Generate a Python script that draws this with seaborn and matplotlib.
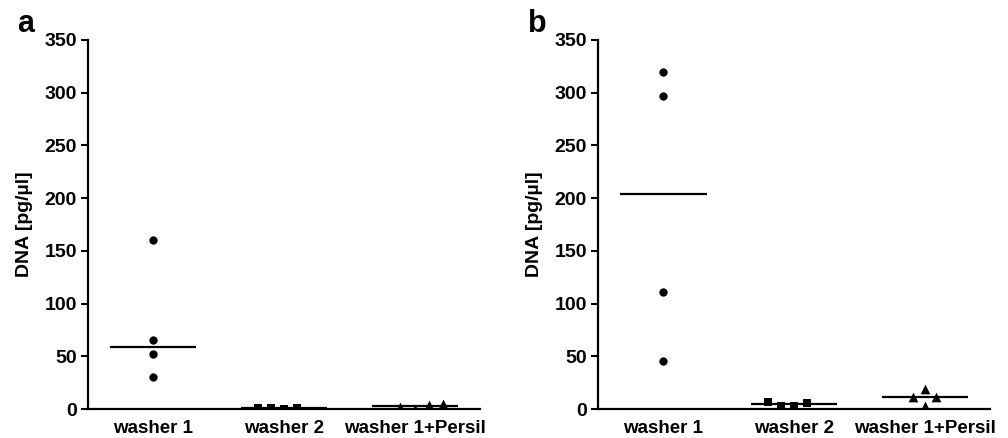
import matplotlib
matplotlib.use("Agg")
import matplotlib.pyplot as plt
import numpy as np
import pandas as pd
import seaborn as sns

categories = ["washer 1", "washer 2", "washer 1+Persil"]
markers = ["o", "s", "^"]
marker_sizes = [6, 6, 7]

# panel a
a_washer1 = [160, 65, 52, 30]
a_washer2 = [1.0, 0.3, 0.6, 1.3]
a_persil = [3.5, 0.3, 1.5, 4.5]

# panel b
b_washer1 = [320, 297, 111, 45.5]
b_washer2 = [6.0, 3.0, 3.0, 6.5]
b_persil = [11, 18.7, 11, 3]

yticks = [0, 50, 100, 150, 200, 250, 300, 350]

sns.set_style("ticks")
plt.rcParams["font.family"] = ["Liberation Sans", "DejaVu Sans"]
plt.rcParams["font.weight"] = "bold"
plt.rcParams["text.color"] = "black"
plt.rcParams["axes.labelcolor"] = "black"
plt.rcParams["xtick.color"] = "black"
plt.rcParams["ytick.color"] = "black"
plt.rcParams["axes.edgecolor"] = "black"


def make_df(groups):
    rows = []
    for cat, vals in zip(categories, groups):
        for v in vals:
            rows.append({"group": cat, "dna": v})
    return pd.DataFrame(rows)


def draw_panel(ax, df):
    # median line per group
    sns.boxplot(data=df, x="group", y="dna", order=categories, ax=ax,
                width=0.66, showbox=False, showcaps=False, showfliers=False,
                whiskerprops={"visible": False},
                medianprops={"color": "black", "linewidth": 1.6})
    for cat, m, sz in zip(categories, markers, marker_sizes):
        sub = df[df["group"] == cat]
        sns.swarmplot(data=sub, x="group", y="dna", order=categories, ax=ax,
                      color="black", marker=m, size=sz, linewidth=3,
                      edgecolor=(1, 1, 1, 0))
    ax.set_ylim(0, 350)
    ax.set_xlim(-0.5, 2.5)
    ax.set_yticks(yticks)
    ax.set_xlabel("")
    ax.set_ylabel("DNA [pg/µl]", fontsize=14, fontweight="bold", labelpad=8)
    for s in ["left", "bottom"]:
        ax.spines[s].set_linewidth(1.6)
    sns.despine(ax=ax)
    ax.tick_params(axis="y", length=5, width=1.5, labelsize=14, pad=3)
    ax.tick_params(axis="x", length=0, labelsize=13.5, pad=8)
    for lab in ax.get_xticklabels() + ax.get_yticklabels():
        lab.set_fontweight("bold")


fig = plt.figure(figsize=(10.08, 4.38), dpi=100)
ax1 = fig.add_axes([0.0873, 0.0662, 0.3889, 0.8425])
ax2 = fig.add_axes([0.5933, 0.0662, 0.3889, 0.8425])

draw_panel(ax1, make_df([a_washer1, a_washer2, a_persil]))
draw_panel(ax2, make_df([b_washer1, b_washer2, b_persil]))

fig.text(0.017, 0.927, "a", fontsize=22, fontweight="bold")
fig.text(0.524, 0.927, "b", fontsize=22, fontweight="bold")

fig.savefig("out.png", dpi=100)
